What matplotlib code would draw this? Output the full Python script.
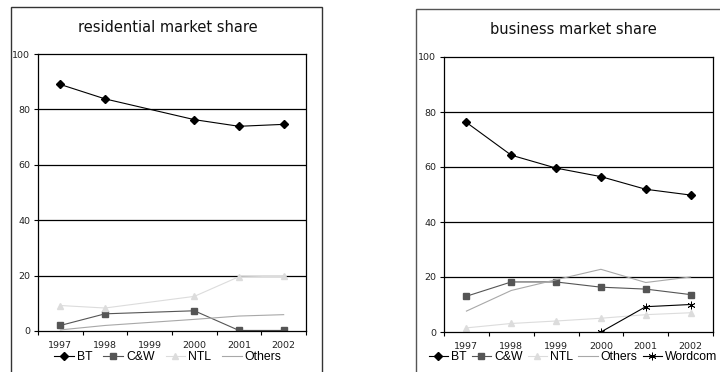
import matplotlib.pyplot as plt
import numpy as np
from matplotlib.patches import Rectangle

years = ["1997", "1998", "1999", "2000", "2001", "2002"]

# residential market share (no data for 1999)
res_x = [0, 1, 3, 4, 5]
res_bt = [89.0, 83.8, 76.3, 73.9, 74.6]
res_cw = [2.0, 6.2, 7.3, 0.2, 0.2]
res_ntl = [9.2, 8.3, 12.5, 19.6, 19.7]
res_others = [0.4, 2.0, 4.2, 5.4, 5.9]

# business market share
bus_x = [0, 1, 2, 3, 4, 5]
bus_bt = [76.2, 64.3, 59.6, 56.5, 51.9, 49.8]
bus_cw = [13.0, 18.2, 18.2, 16.3, 15.6, 13.6]
bus_ntl = [1.5, 3.1, 4.0, 5.0, 6.3, 7.0]
bus_others = [7.6, 15.1, 19.0, 22.8, 18.0, 20.0]
wordcom_x = [3, 4, 5]
bus_wordcom = [0.0, 9.2, 10.0]

W, H = 720, 372
fig = plt.figure(figsize=(W / 100, H / 100), dpi=100)

styles = {
    "BT": dict(color="black", marker="D", markersize=3.8, lw=0.8),
    "C&W": dict(color="#555555", marker="s", markersize=5, lw=0.8),
    "NTL": dict(color="#dcdcdc", marker="^", markersize=5, lw=0.8),
    "Others": dict(color="#a8a8a8", marker=None, lw=0.8),
    "Wordcom": dict(color="black", marker=(6, 2, 0), markersize=5.5, mew=0.6,
                    lw=0.8),
}


def frac(x0, y0, x1, y1):
    return [x0 / W, 1 - y1 / H, (x1 - x0) / W, (y1 - y0) / H]


def setup(ax, title, box, ncol, colsp):
    ax.set_xlim(-0.5, 5.5)
    ax.set_ylim(0, 100)
    ax.set_yticks(np.arange(0, 101, 20))
    ax.set_yticklabels([str(v) for v in range(0, 101, 20)], fontsize=6.8,
                       color="#222222")
    ax.tick_params(axis="y", direction="out", length=3, width=0.8, pad=2.5)
    ax.set_xticks(np.arange(-0.5, 6, 1))
    ax.set_xticklabels([])
    ax.tick_params(axis="x", which="major", direction="out", length=3, width=0.8)
    ax.set_xticks(np.arange(6), minor=True)
    ax.set_xticklabels(years, minor=True, fontsize=6.8, color="#222222")
    ax.tick_params(axis="x", which="minor", length=0, pad=7)
    for y in range(20, 100, 20):
        ax.axhline(y, color="black", lw=0.9, zorder=0)
    for s in ax.spines.values():
        s.set_linewidth(0.9)
        s.set_color("black")
    fig.text(box[0], box[1], title, fontsize=10.5, ha="center", va="center",
             color="#111111")
    leg = ax.legend(loc="center", bbox_to_anchor=(box[0], 1 - 357 / H), ncol=ncol,
                    bbox_transform=fig.transFigure,
                    frameon=False, handlelength=1.6, handletextpad=0.25,
                    columnspacing=colsp, borderaxespad=0, borderpad=0,
                    prop={"family": "Liberation Sans", "size": 8.8})
    return leg


# outer chart frames
fig.patches.append(Rectangle((11 / W, 1 - 380 / H), (322 - 11) / W, (380 - 7) / H,
                             transform=fig.transFigure, fill=False,
                             edgecolor="#333333", lw=1, clip_on=False))
fig.patches.append(Rectangle((416 / W, 1 - 380 / H), (740 - 416) / W, (380 - 9) / H,
                             transform=fig.transFigure, fill=False,
                             edgecolor="#555555", lw=1, clip_on=False))

ax1 = fig.add_axes(frac(38, 54, 306, 331))
ax1.plot(res_x, res_bt, label="BT", **styles["BT"])
ax1.plot(res_x, res_cw, label="C&W", **styles["C&W"])
ax1.plot(res_x, res_ntl, label="NTL", **styles["NTL"])
ax1.plot(res_x, res_others, label="Others", **styles["Others"])
setup(ax1, "residential market share", (168 / W, 1 - 28 / H), 4, 0.9)

ax2 = fig.add_axes(frac(444, 57, 713, 332))
ax2.plot(bus_x, bus_bt, label="BT", **styles["BT"])
ax2.plot(bus_x, bus_cw, label="C&W", **styles["C&W"])
ax2.plot(bus_x, bus_ntl, label="NTL", **styles["NTL"])
ax2.plot(bus_x, bus_others, label="Others", **styles["Others"])
ax2.plot(wordcom_x, bus_wordcom, label="Wordcom", **styles["Wordcom"])
setup(ax2, "business market share", (573 / W, 1 - 29 / H), 5, 0.4)

fig.savefig("out.png", dpi=100)
